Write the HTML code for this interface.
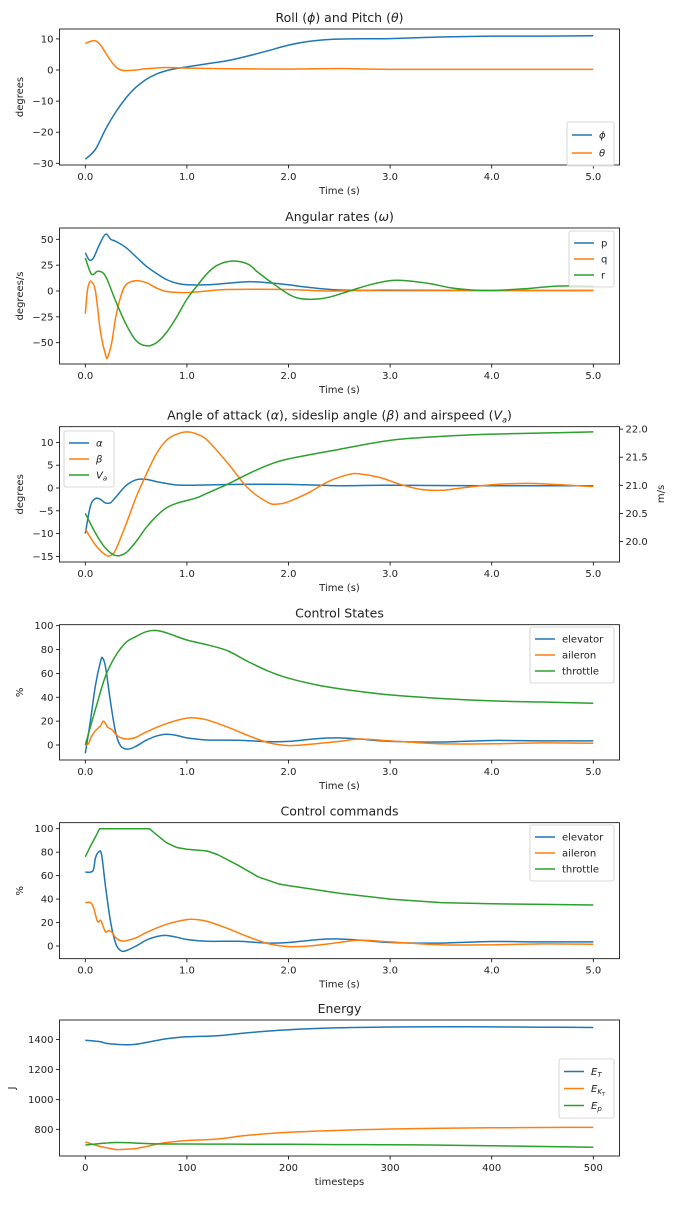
<!DOCTYPE html>
<html><head><meta charset="utf-8"><style>
body{margin:0;background:#fff}
svg text{font-family:"DejaVu Sans","Liberation Sans",sans-serif;fill:#222}
</style></head><body>
<svg id="fig" width="675" height="1200" viewBox="0 0 675 1200" xmlns="http://www.w3.org/2000/svg"></svg>
<script>
// ---------- data ----------
const tPhi=[0,0.1,0.2,0.3,0.4,0.5,0.6,0.7,0.8,0.9,1.0,1.2,1.4,1.6,1.8,2.0,2.2,2.4,2.6,3.0,3.5,4.0,4.5,5.0];
const phi=[-28.7,-25.5,-19,-13.5,-9,-5.5,-3,-1.3,-0.2,0.5,1.0,2,3,4.5,6.2,8,9.2,9.8,10,10.1,10.6,10.9,10.9,11];
const tTheta=[0,0.05,0.1,0.15,0.2,0.25,0.3,0.35,0.4,0.5,0.6,0.8,1.0,1.5,2.0,2.5,3.0,4.0,5.0];
const theta=[8.5,9.2,9.4,8,5.5,3,1,0,-0.2,0,0.4,0.8,0.6,0.4,0.3,0.5,0.2,0.2,0.2];

const tP=[0,0.04,0.08,0.14,0.2,0.25,0.3,0.4,0.5,0.6,0.7,0.8,0.9,1.0,1.2,1.4,1.6,1.8,2.0,2.2,2.5,3.0,3.5,4.0,5.0];
const pRate=[37,30,32,45,55,50,48,42,33,24,17,11,7.5,6,6,7.5,9,8,6,3.5,1,0.5,0.5,0.5,0.5];
const tQ=[0,0.02,0.04,0.06,0.1,0.15,0.2,0.22,0.26,0.3,0.35,0.4,0.5,0.6,0.7,0.8,1.0,1.2,1.4,2.0,2.4,3.0,4.0,5.0];
const qRate=[-22,0,8,9,0,-40,-62,-64,-50,-25,-5,6,10,8,3,-0.5,-1.5,0,1.5,1.5,0,1,0.5,0.5];
const tR=[0,0.05,0.08,0.12,0.18,0.22,0.3,0.4,0.5,0.6,0.7,0.8,0.9,1.0,1.1,1.2,1.3,1.45,1.6,1.7,1.85,2.0,2.1,2.25,2.4,2.6,2.8,3.0,3.15,3.4,3.6,3.8,4.0,4.3,4.6,4.8,5.0];
const rRate=[32,18,16,19,17,10,-10,-32,-48,-53,-50,-40,-25,-8,5,17,25,29,26,18,7,-3,-7,-8,-6,0,6,10,10,7,3,1,0.5,2,4.5,5,4.5];

const tAlpha=[0,0.05,0.1,0.15,0.2,0.25,0.3,0.4,0.5,0.6,0.7,0.85,1.0,1.5,2.0,2.5,3.0,4.0,5.0];
const alpha=[-10,-4,-2.3,-2.5,-3.3,-3.2,-2,0.5,1.8,1.9,1.4,0.8,0.6,0.8,0.8,0.5,0.6,0.5,0.5];
const tBeta=[0,0.1,0.2,0.25,0.3,0.4,0.5,0.6,0.7,0.8,0.9,1.0,1.1,1.2,1.4,1.6,1.8,1.9,2.0,2.2,2.4,2.6,2.7,2.9,3.1,3.3,3.5,3.7,4.0,4.3,4.6,5.0];
const beta=[-9,-12.5,-14.7,-14.8,-13.5,-8,-2,3,7.5,10.5,11.8,12.3,11.8,10.5,5.5,0,-3.2,-3.5,-3,-1,1.5,3,3.1,2.3,0.8,-0.3,-0.5,0,0.7,1,0.8,0.3];
const tVa=[0,0.1,0.2,0.3,0.4,0.5,0.6,0.7,0.8,0.9,1.0,1.1,1.2,1.4,1.6,1.8,2.0,2.5,3.0,3.5,4.0,4.5,5.0];
const Va=[20.5,20.15,19.88,19.75,19.8,20.0,20.25,20.45,20.6,20.68,20.73,20.78,20.86,21.02,21.2,21.36,21.47,21.64,21.8,21.87,21.91,21.93,21.95];

const tElev=[0,0.05,0.1,0.15,0.17,0.2,0.25,0.3,0.35,0.42,0.5,0.6,0.7,0.8,0.9,1.0,1.2,1.5,1.8,2.0,2.3,2.5,2.7,3.0,3.5,4.0,4.5,5.0];
const elevState=[-7,20,50,70,73,65,35,10,-1,-3.5,-1,4,7.5,9,8,6,4.2,4,2.8,3,5.5,6,5,3,2.5,3.8,3.5,3.5];
const tAil=[0,0.03,0.06,0.1,0.15,0.18,0.22,0.26,0.3,0.35,0.42,0.5,0.6,0.8,1.0,1.1,1.2,1.4,1.6,1.8,2.0,2.2,2.5,2.7,3.0,3.5,4.0,4.5,5.0];
const ailState=[0,1,7,12,16,20,15,13,9,6,5,6.5,11,18,22.5,22.5,21,15,8,2,-0.5,0.5,3,5,3.5,1,1,1.8,1.5];
const tThr=[0,0.1,0.2,0.3,0.4,0.5,0.6,0.7,0.8,1.0,1.2,1.4,1.6,1.8,2.0,2.3,2.6,3.0,3.5,4.0,4.5,5.0];
const thrState=[0,30,58,75,86,91,95,96,94,88,84,79,70,62,56,50,46,42,39,37,36,35];

const tElevC=[0,0.05,0.08,0.1,0.13,0.16,0.2,0.25,0.3,0.35,0.4,0.5,0.6,0.7,0.8,0.9,1.0,1.2,1.5,1.8,2.0,2.3,2.5,2.7,3.0,3.5,4.0,4.5,5.0];
const elevCmd=[63,63,65,75,80,78,50,20,2,-4,-4,0,5,8,9,7.5,5.5,4,4,2.5,3,5.5,6,5,3,2.5,3.8,3.5,3.5];
const tAilC=[0,0.05,0.08,0.12,0.15,0.17,0.2,0.23,0.26,0.3,0.35,0.4,0.5,0.6,0.8,1.0,1.1,1.2,1.4,1.6,1.8,2.0,2.2,2.5,2.7,3.0,3.5,4.0,4.5,5.0];
const ailCmd=[37,37,33,21,22,18,12,13,12,7,4.5,4.5,7,11.5,18.5,22.5,22.5,21,15,8,2,-0.5,0,3,5,3.5,1,1,1.8,1.5];
const tThrC=[0,0.05,0.1,0.14,0.3,0.5,0.63,0.7,0.8,0.9,1.0,1.2,1.3,1.5,1.7,1.9,2.0,2.5,3.0,3.5,4.0,4.5,5.0];
const thrCmd=[76,85,93,100,100,100,100,95,88,84,82.5,81,78,69,59,53,51.5,45,40,37,36,35.5,35];

const steps=[0,15,20,30,40,50,60,70,80,100,130,160,200,250,300,350,400,450,500];
const ET=[1395,1385,1375,1368,1365,1368,1380,1393,1405,1418,1425,1445,1465,1478,1483,1485,1484,1482,1480];
const EK=[715,685,678,665,667,672,685,700,712,725,735,760,780,793,802,807,810,812,813];
const EP=[695,705,708,712,711,708,705,703,702,702,701,700,700,698,697,694,690,685,680];

const tTicks=[0,1,2,3,4,5];
const tTickLabels=["0.0","1.0","2.0","3.0","4.0","5.0"];
const stepTicks=[0,100,200,300,400,500];

// ---------- drawing ----------
const NS="http://www.w3.org/2000/svg";
const svg=document.getElementById('fig');
const C={b:"#1f77b4",o:"#ff7f0e",g:"#2ca02c"};
const L=59.5,R=619.5;
function el(tag,attrs,parent){const e=document.createElementNS(NS,tag);for(const k in attrs)e.setAttribute(k,attrs[k]);(parent||svg).appendChild(e);return e;}
function txt(s,x,y,attrs,parent){const e=el('text',Object.assign({x:x,y:y},attrs||{}),parent);e.innerHTML=s;return e;}
function path(xs,ys,fx,fy,color,name,smooth){
  const P=xs.map((x,i)=>[fx(x),fy(ys[i])]);
  let d="M"+P[0][0].toFixed(2)+","+P[0][1].toFixed(2);
  for(let i=0;i<P.length-1;i++){
    if(!smooth){d+="L"+P[i+1][0].toFixed(2)+","+P[i+1][1].toFixed(2);continue;}
    const p0=P[Math.max(0,i-1)],p1=P[i],p2=P[i+1],p3=P[Math.min(P.length-1,i+2)];
    const c1=[p1[0]+(p2[0]-p0[0])/6,p1[1]+(p2[1]-p0[1])/6],c2=[p2[0]-(p3[0]-p1[0])/6,p2[1]-(p3[1]-p1[1])/6];
    d+="C"+c1.map(v=>v.toFixed(2))+" "+c2.map(v=>v.toFixed(2))+" "+p2[0].toFixed(2)+","+p2[1].toFixed(2);
  }
  const e=el('path',{d:d,fill:"none",stroke:color,"stroke-width":1.5,"stroke-linejoin":"round"});
  
  
  return e;
}
function axes(o){
  const g=el('g',{});
  
  
  const tt=txt(o.title,339.5,o.top-7,{"text-anchor":"middle","font-size":"12.5"},g);
  
  
  o.series.forEach(s=>path(s.x,s.y,o.fx,s.fy||o.fy,s.c,s.n,s.smooth!==false).parentNode===svg&&g.appendChild(svg.lastChild));
  el('rect',{x:L,y:o.top,width:R-L,height:o.bot-o.top,fill:"none",stroke:"#000","stroke-width":0.8},g);
  o.xt.forEach((v,i)=>{const x=o.fx(v);el('line',{x1:x,x2:x,y1:o.bot,y2:o.bot+3.5,stroke:"#000","stroke-width":0.8},g);
    const t=txt(o.xl[i],x,o.bot+15,{"text-anchor":"middle","font-size":"10"},g);
    
    });
  o.yt.forEach((v,i)=>{const y=o.fy(v);el('line',{x1:L,x2:L-3.5,y1:y,y2:y,stroke:"#000","stroke-width":0.8},g);
    const t=txt(o.yl[i],L-6,y+3.5,{"text-anchor":"end","font-size":"10"},g);
    
    });
  const xl=txt(o.xlabel,339.5,o.bot+29,{"text-anchor":"middle","font-size":"10"},g);
  
  
  const ym=(o.top+o.bot)/2;
  const yl=txt(o.ylabel,0,0,{"text-anchor":"middle","font-size":"10",transform:`translate(${o.ylx||23},${ym}) rotate(-90)`},g);
  
  
  // legend
  const lg=o.legend;
  const lgEl=el('g',{},g);
  
  
  el('rect',{x:lg.x,y:lg.y,width:lg.w,height:lg.items.length*lg.dy+8,rx:2,fill:"#fff","fill-opacity":0.8,stroke:"#ccc","stroke-width":0.8},lgEl);
  lg.items.forEach((it,i)=>{const y=lg.y+4+lg.dy*(i+0.5);
    el('line',{x1:lg.x+5,x2:lg.x+25,y1:y,y2:y,stroke:it.c,"stroke-width":1.5},lgEl);
    const t=txt(it.t,lg.x+32,y+3.5,{"font-size":"10"},lgEl);
    
    });
  svg.appendChild(g);
}
const fxT=t=>85.3+t*101.6;
const fxS=s=>85.3+s*1.016;

axes({name:"roll-pitch-chart",title:"Roll (<tspan font-style='italic'>ϕ</tspan>) and Pitch (<tspan font-style='italic'>θ</tspan>)",top:29,bot:165,fx:fxT,fy:v=>70-v*3.11,
  xt:tTicks,xl:tTickLabels,yt:[10,0,-10,-20,-30],yl:["10","0","−10","−20","−30"],xlabel:"Time (s)",ylabel:"degrees",
  series:[{x:tPhi,y:phi,c:C.b,n:"phi-line"},{x:tTheta,y:theta,c:C.o,n:"theta-line"}],
  legend:{x:567,y:122,w:47,dy:18,items:[{t:"<tspan font-style='italic'>ϕ</tspan>",c:C.b},{t:"<tspan font-style='italic'>θ</tspan>",c:C.o}]}});

axes({name:"angular-rates-chart",title:"Angular rates (<tspan font-style='italic'>ω</tspan>)",top:228,bot:364,fx:fxT,fy:v=>291-v*1.034,
  xt:tTicks,xl:tTickLabels,yt:[50,25,0,-25,-50],yl:["50","25","0","−25","−50"],xlabel:"Time (s)",ylabel:"degrees/s",ylx:23,
  series:[{x:tP,y:pRate,c:C.b,n:"p-line"},{x:tQ,y:qRate,c:C.o,n:"q-line"},{x:tR,y:rRate,c:C.g,n:"r-line"}],
  legend:{x:569,y:231,w:45,dy:16,items:[{t:"p",c:C.b},{t:"q",c:C.o},{t:"r",c:C.g}]}});

const fyVa=v=>485.3-(v-21)*56.2;
axes({name:"aoa-sideslip-airspeed-chart",title:"Angle of attack (<tspan font-style='italic'>α</tspan>), sideslip angle (<tspan font-style='italic'>β</tspan>) and airspeed (<tspan font-style='italic'>V</tspan><tspan font-size='8' dy='3' font-style='italic'>a</tspan><tspan dy='-3'>)</tspan>",top:426.7,bot:562,fx:fxT,fy:v=>488-v*4.56,
  xt:tTicks,xl:tTickLabels,yt:[10,5,0,-5,-10,-15],yl:["10","5","0","−5","−10","−15"],xlabel:"Time (s)",ylabel:"degrees",
  series:[{x:tAlpha,y:alpha,c:C.b,n:"alpha-line"},{x:tBeta,y:beta,c:C.o,n:"beta-line"},{x:tVa,y:Va,c:C.g,n:"airspeed-line",fy:fyVa}],
  legend:{x:64,y:431,w:50,dy:16,items:[{t:"<tspan font-style='italic'>α</tspan>",c:C.b},{t:"<tspan font-style='italic'>β</tspan>",c:C.o},{t:"<tspan font-style='italic'>V</tspan><tspan font-size='7' dy='2' font-style='italic'>a</tspan>",c:C.g}]}});
// right axis
(function(){const g=el('g',{});
  
  
  [22.0,21.5,21.0,20.5,20.0].forEach(v=>{const y=fyVa(v);el('line',{x1:R,x2:R+3.5,y1:y,y2:y,stroke:"#000","stroke-width":0.8},g);
    const t=txt(v.toFixed(1),R+6,y+3.5,{"font-size":"10"},g);
    
    });
  const t=txt("m/s",0,0,{"text-anchor":"middle","font-size":"10",transform:"translate(664,494) rotate(-90)"},g);
  
  })();

axes({name:"control-states-chart",title:"Control States",top:624.7,bot:760,fx:fxT,fy:v=>745-v*1.193,
  xt:tTicks,xl:tTickLabels,yt:[100,80,60,40,20,0],yl:["100","80","60","40","20","0"],xlabel:"Time (s)",ylabel:"%",
  series:[{x:tElev,y:elevState,c:C.b,n:"elevator-state-line"},{x:tAil,y:ailState,c:C.o,n:"aileron-state-line"},{x:tThr,y:thrState,c:C.g,n:"throttle-state-line"}],
  legend:{x:530,y:627,w:84,dy:16,items:[{t:"elevator",c:C.b},{t:"aileron",c:C.o},{t:"throttle",c:C.g}]}});

axes({name:"control-commands-chart",title:"Control commands",top:822.7,bot:958.7,fx:fxT,fy:v=>946-v*1.173,
  xt:tTicks,xl:tTickLabels,yt:[100,80,60,40,20,0],yl:["100","80","60","40","20","0"],xlabel:"Time (s)",ylabel:"%",
  series:[{x:tElevC,y:elevCmd,c:C.b,n:"elevator-command-line"},{x:tAilC,y:ailCmd,c:C.o,n:"aileron-command-line"},{x:tThrC,y:thrCmd,c:C.g,n:"throttle-command-line",smooth:false}],
  legend:{x:530,y:825,w:84,dy:16,items:[{t:"elevator",c:C.b},{t:"aileron",c:C.o},{t:"throttle",c:C.g}]}});

axes({name:"energy-chart",title:"Energy",top:1020,bot:1156,fx:fxS,fy:v=>1129.3-(v-800)*0.1497,
  xt:stepTicks,xl:stepTicks.map(String),yt:[1400,1200,1000,800],yl:["1400","1200","1000","800"],xlabel:"timesteps",ylabel:"J",ylx:15,
  series:[{x:steps,y:ET,c:C.b,n:"total-energy-line"},{x:steps,y:EK,c:C.o,n:"kinetic-energy-line"},{x:steps,y:EP,c:C.g,n:"potential-energy-line"}],
  legend:{x:559,y:1059,w:55,dy:17,items:[{t:"<tspan font-style='italic'>E</tspan><tspan font-size='7' dy='2' font-style='italic'>T</tspan>",c:C.b},{t:"<tspan font-style='italic'>E</tspan><tspan font-size='7' dy='2' font-style='italic'>K</tspan><tspan font-size='5' dy='2' font-style='italic'>T</tspan>",c:C.o},{t:"<tspan font-style='italic'>E</tspan><tspan font-size='7' dy='2' font-style='italic'>p</tspan>",c:C.g}]}});
</script>
</body></html>
